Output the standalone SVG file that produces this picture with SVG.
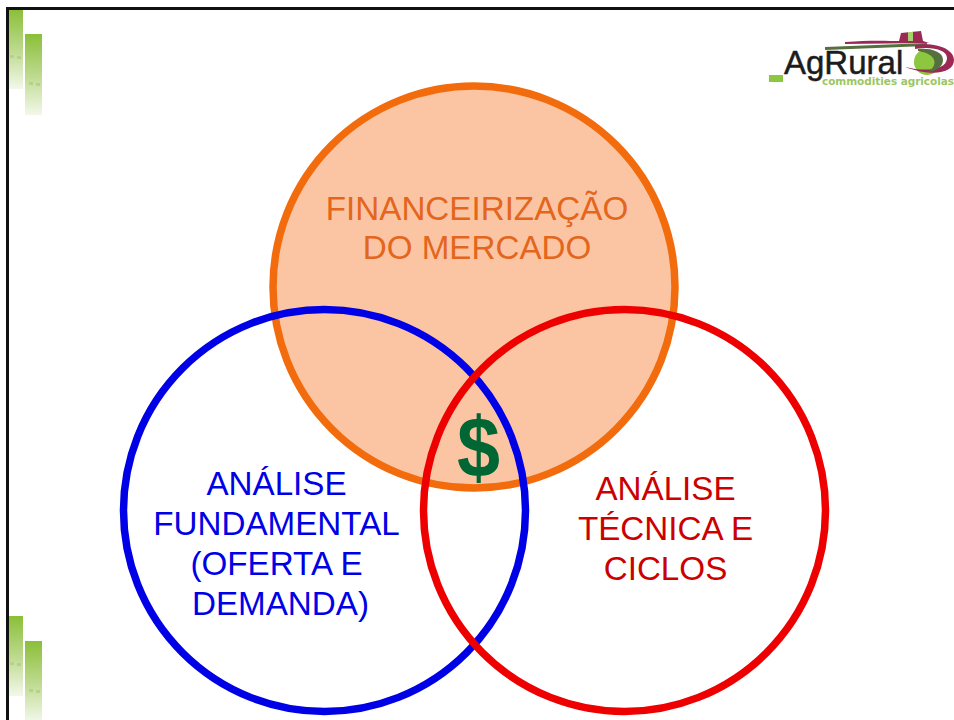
<svg xmlns="http://www.w3.org/2000/svg" width="954" height="720" viewBox="0 0 954 720">
<defs>
<linearGradient id="g" x1="0" y1="0" x2="0" y2="1"><stop offset="0" stop-color="#8abf38"/><stop offset="0.5" stop-color="#bcd98c"/><stop offset="1" stop-color="#f3f8ea"/></linearGradient>
<g id="bars">
<rect x="9" y="0" width="14" height="80" fill="url(#g)"/>
<rect x="25" y="25" width="17" height="81" fill="url(#g)"/>
<rect x="10" y="46" width="4" height="3" fill="#b5d388"/><rect x="17" y="47" width="4" height="3" fill="#b5d388"/>
<rect x="29" y="73" width="4" height="3" fill="#b5d388"/><rect x="36" y="74" width="4" height="3" fill="#b5d388"/>
</g>
</defs>
<style>
.l{font-family:"Liberation Sans",Arial,sans-serif;font-size:33.200px;text-anchor:middle}
circle{stroke-width:7.500}
</style>
<rect width="954" height="720" fill="#fff"/>
<g id="decor-top"><use href="#bars" y="9"/></g>
<g id="decor-bottom"><use href="#bars" y="616"/></g>
<path d="M7.500 720V8.500H954" fill="none" stroke="#111" stroke-width="3"/>
<g id="logo">
<rect x="769" y="75" width="14" height="7" fill="#8dc63f"/>
<path d="M845 42C870 40 890 41 899 41L901 33L921 31L923 41L929 43L845 44Z" fill="#9a2a55"/>
<rect x="908" y="32" width="5" height="9" fill="#a8d070"/>
<path d="M825 47L927 43V46L825 50Z" fill="#55703f"/>
<circle cx="927" cy="62" r="13" fill="#8dc63f" stroke="none"/>
<path d="M915 45C938 42 954 50 954 60C954 72 935 78 905 67C925 72 947 70 947 58C947 50 932 46 915 49Z" fill="#9a2a55"/>
<path d="M918 49C932 48 943 52 943 60C943 67 936 71 928 72C938 66 938 54 918 51Z" fill="#55703f"/>
<text x="784" y="74" font-family="Liberation Sans,sans-serif" font-size="33" fill="#1c1c1c" stroke="#1c1c1c" stroke-width="0.500">AgRural</text>
<text x="822" y="85" font-family="DejaVu Sans,sans-serif" font-size="10.500" font-weight="bold" fill="#9cc763" textLength="132">commodities agricolas</text>
</g>
<g id="node-financeirizacao">
<circle cx="474" cy="287" r="201" fill="#fbc5a4" stroke="#f26b0c"/>
<text class="l" x="477" y="220" fill="#e4661c">FINANCEIRIZAÇÃO</text>
<text class="l" x="477" y="259" fill="#e4661c">DO MERCADO</text>
</g>
<g id="node-fundamental">
<circle cx="324.500" cy="510.500" r="201" fill="none" stroke="#0000e6"/>
<text class="l" x="276.500" y="495" fill="#0000e6">ANÁLISE</text>
<text class="l" x="276.500" y="535" fill="#0000e6">FUNDAMENTAL</text>
<text class="l" x="276.500" y="575" fill="#0000e6">(OFERTA E</text>
<text class="l" x="280.500" y="615" fill="#0000e6">DEMANDA)</text>
</g>
<g id="node-tecnica">
<circle cx="624.500" cy="510.500" r="201" fill="none" stroke="#ee0000"/>
<text class="l" x="665.500" y="500" fill="#cc0000">ANÁLISE</text>
<text class="l" x="665.500" y="540" fill="#cc0000">TÉCNICA E</text>
<text class="l" x="665.500" y="580" fill="#cc0000">CICLOS</text>
</g>
<g id="dollar"><text transform="translate(478.500 476.500) scale(0.9 1)" font-family="Liberation Sans,sans-serif" font-size="86" font-weight="bold" text-anchor="middle" fill="#006633">$</text></g>
</svg>
